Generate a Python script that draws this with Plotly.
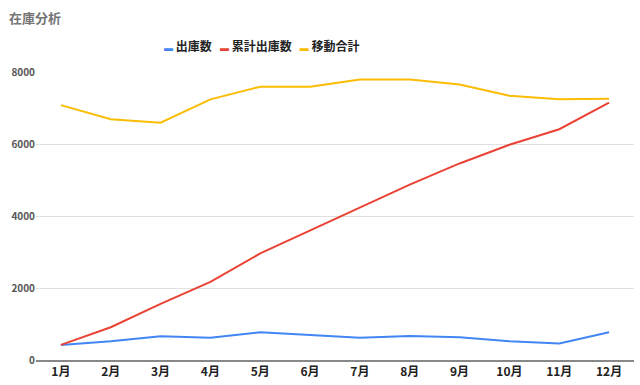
import plotly.graph_objects as go

months = ["1月", "2月", "3月", "4月", "5月", "6月", "7月", "8月", "9月", "10月", "11月", "12月"]
shipped = [420, 520, 660, 620, 770, 690, 620, 670, 630, 520, 460, 770]
cumulative = [420, 910, 1560, 2170, 2960, 3590, 4230, 4870, 5460, 5980, 6410, 7150]
moving_total = [7080, 6690, 6590, 7240, 7590, 7590, 7790, 7790, 7650, 7340, 7240, 7260]
y_ticks = [0, 2000, 4000, 6000, 8000]

names = ["出庫数", "累計出庫数", "移動合計"]
colors = ["#4285F4", "#EA4335", "#FBBC04"]
series = [shipped, cumulative, moving_total]

FONT = "Noto Sans CJK JP"

fig = go.Figure()
for name, color, vals in zip(names, colors, series):
    fig.add_trace(go.Scatter(x=months, y=vals, name=name, mode="lines",
                             line=dict(color=color, width=2), showlegend=False))

legend_text = "&nbsp;&nbsp;&nbsp;".join(
    f"<span style='color:{c};font-size:9px'>▬</span> {n}" for n, c in zip(names, colors)
)
fig.add_annotation(text=legend_text, xref="paper", yref="paper", x=0.378, y=1.0,
                   yshift=27, showarrow=False, xanchor="center", yanchor="middle",
                   font=dict(family=FONT, size=12, color="#222222", weight="bold"))

fig.update_layout(
    width=640, height=385,
    margin=dict(l=36, r=6, t=72, b=23),
    paper_bgcolor="white", plot_bgcolor="white",
    title=dict(text="在庫分析", x=0.014, xanchor="left", y=0.953, yanchor="middle",
               font=dict(family=FONT, size=13, color="#757575", weight="bold")),
    font=dict(family=FONT),
    showlegend=False,
)
fig.update_xaxes(range=[-0.5, 11.5], showgrid=False, showline=True, linecolor="#888888",
                 linewidth=1.5, ticks="", tickfont=dict(family=FONT, size=12, color="#222222", weight="bold"))
fig.update_yaxes(range=[0, 8000], tickvals=y_ticks, showgrid=True, gridcolor="#e0e0e0",
                 gridwidth=1, zeroline=False, ticks="",
                 tickfont=dict(family=FONT, size=10, color="#555555", weight="bold"))

fig.write_html("out.html", config={"displayModeBar": False},
               post_script="document.body.style.margin='0px';")
